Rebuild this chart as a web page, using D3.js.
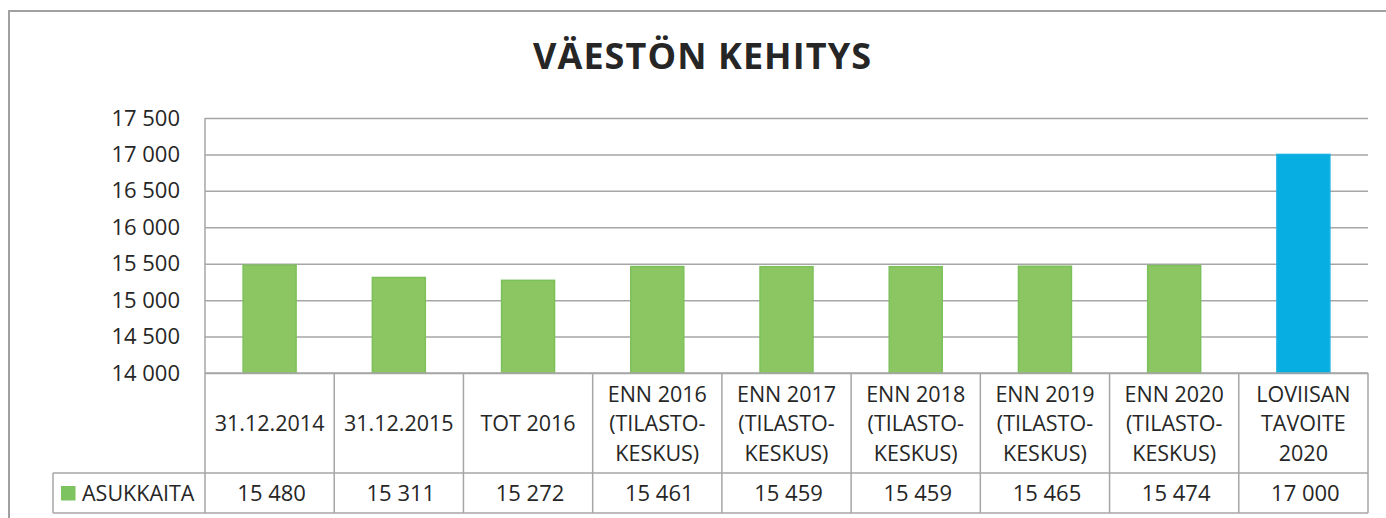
<!DOCTYPE html>
<html>
<head>
<meta charset="utf-8">
<script src="https://cdn.jsdelivr.net/npm/d3@7"></script>
<style>
  html, body { margin: 0; padding: 0; background: #fff; }
  svg { display: block; }
</style>
</head>
<body>
<svg id="chart" width="1386" height="518"></svg>
<script>
// ---- data ----
const title = "VÄESTÖN KEHITYS";
const seriesName = "ASUKKAITA";
const categories = [
  "31.12.2014",
  "31.12.2015",
  "TOT 2016",
  "ENN 2016\n(TILASTO-\nKESKUS)",
  "ENN 2017\n(TILASTO-\nKESKUS)",
  "ENN 2018\n(TILASTO-\nKESKUS)",
  "ENN 2019\n(TILASTO-\nKESKUS)",
  "ENN 2020\n(TILASTO-\nKESKUS)",
  "LOVIISAN\nTAVOITE\n2020"
];
const values = [15480, 15311, 15272, 15461, 15459, 15459, 15465, 15474, 17000];
const highlight = [false, false, false, false, false, false, false, false, true];
const yTicks = [14000, 14500, 15000, 15500, 16000, 16500, 17000, 17500];

// ---- layout ----
const svg = d3.select("#chart");
const plotL = 205, plotR = 1368, plotT = 118, plotB = 373;
const headerB = 473, tableB = 513, legendL = 53;
const gridCol = "#a6a6a6";
const textCol = "#262626";
const font = "'Open Sans', sans-serif";

const loc = d3.formatLocale({decimal: ",", thousands: "\u00a0", grouping: [3], currency: ["", ""]});
const fmt = loc.format(",d");

const x = d3.scaleBand().domain(categories).range([plotL, plotR]).padding(0);
const y = d3.scaleLinear().domain([14000, 17500]).range([plotB, plotT]);

// outer frame
svg.append("path")
  .attr("d", `M9,518 L9,11 L1386,11`)
  .attr("fill", "none").attr("stroke", "#a0a0a0").attr("stroke-width", 2);

// title
svg.append("text")
  .attr("x", 702).attr("y", 69)
  .attr("text-anchor", "middle")
  .attr("font-family", font).attr("font-weight", 700)
  .attr("font-size", 36).attr("fill", textCol)
  .attr("textLength", 338).attr("lengthAdjust", "spacing")
  .text(title);

// y axis with gridlines
const yAxis = d3.axisLeft(y).tickValues(yTicks).tickFormat(fmt)
  .tickSizeInner(-(plotR - plotL)).tickSizeOuter(0).tickPadding(25);
const gy = svg.append("g").attr("transform", `translate(${plotL},0)`).call(yAxis);
gy.select(".domain").remove();
gy.selectAll(".tick line").attr("stroke", gridCol).attr("stroke-width", 1.5);
gy.selectAll(".tick text")
  .attr("font-family", font).attr("font-size", 22).attr("fill", textCol);

// left axis line through table
svg.append("line")
  .attr("x1", plotL).attr("x2", plotL).attr("y1", plotT).attr("y2", tableB)
  .attr("stroke", gridCol).attr("stroke-width", 1.5);

// bars
const barFrac = 0.41;
svg.append("g").selectAll("rect").data(categories).join("rect")
  .attr("x", (d) => x(d) + x.bandwidth() * (1 - barFrac) / 2)
  .attr("width", x.bandwidth() * barFrac)
  .attr("y", (d, i) => y(values[i]))
  .attr("height", (d, i) => y(14000) - y(values[i]))
  .attr("fill", (d, i) => highlight[i] ? "#06aee1" : "#8bc663")
  .attr("stroke", (d, i) => highlight[i] ? "#18b2e2" : "#7cc05a")
  .attr("stroke-width", 1.5);

// data table grid
const tg = svg.append("g").attr("stroke", gridCol).attr("stroke-width", 1.5).attr("fill", "none");
tg.append("line").attr("x1", plotL).attr("x2", plotR).attr("y1", plotB).attr("y2", plotB);
tg.append("line").attr("x1", legendL).attr("x2", plotR).attr("y1", headerB).attr("y2", headerB);
tg.append("line").attr("x1", legendL).attr("x2", plotR).attr("y1", tableB).attr("y2", tableB);
tg.append("line").attr("x1", legendL).attr("x2", legendL).attr("y1", headerB).attr("y2", tableB);
categories.forEach((c) => {
  const xr = x(c) + x.bandwidth();
  tg.append("line").attr("x1", xr).attr("x2", xr).attr("y1", plotB).attr("y2", tableB);
});

// header labels
const lineH = 29.5;
categories.forEach((c) => {
  const lines = c.split("\n");
  const cx = x(c) + x.bandwidth() / 2;
  const mid = 431;
  const t = svg.append("text")
    .attr("text-anchor", "middle")
    .attr("font-family", font).attr("font-size", 21.5).attr("fill", textCol);
  lines.forEach((ln, j) => {
    t.append("tspan").attr("x", cx)
      .attr("y", mid + (j - (lines.length - 1) / 2) * lineH)
      .text(ln);
  });
});

// values row
svg.append("g").selectAll("text").data(categories).join("text")
  .attr("x", (d) => x(d) + x.bandwidth() / 2 + 2)
  .attr("y", 500.5)
  .attr("text-anchor", "middle")
  .attr("font-family", font).attr("font-size", 22).attr("fill", textCol)
  .text((d, i) => fmt(values[i]));

// legend key + series name
svg.append("rect").attr("x", 61).attr("y", 486).attr("width", 14.5).attr("height", 14.5)
  .attr("fill", "#7dc35f");
svg.append("text")
  .attr("x", 82).attr("y", 500.5)
  .attr("font-family", font).attr("font-size", 21.5).attr("fill", textCol)
  .text(seriesName);
</script>
</body>
</html>
